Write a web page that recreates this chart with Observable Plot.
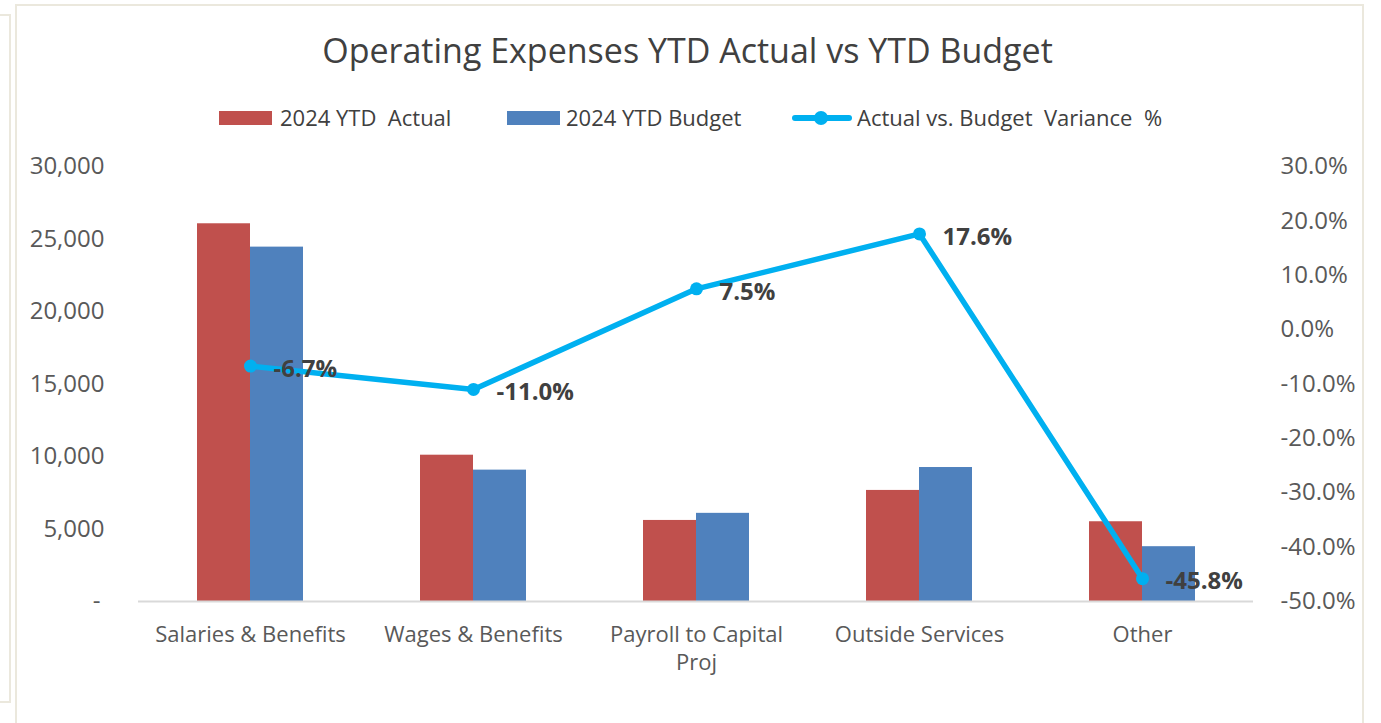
<!DOCTYPE html>
<html>
<head>
<meta charset="utf-8">
<script src="https://cdn.jsdelivr.net/npm/d3@7"></script>
<script src="https://cdn.jsdelivr.net/npm/@observablehq/plot@0.6"></script>
<style>
  html, body { margin: 0; padding: 0; background: #ffffff; }
  body { font-family: "Open Sans", sans-serif; }
  #wrap { position: relative; width: 1381px; height: 723px; overflow: hidden; background: #fff; }
  .side { position: absolute; left: -10px; top: 14px; width: 21px; height: 689px; box-sizing: border-box; border: 2px solid #ebe8dd; }
  .frame { position: absolute; left: 15px; top: 4px; width: 1349px; height: 800px; box-sizing: border-box; border: 2px solid #ebe8dd; }
  #title { position: absolute; left: -3px; top: 33px; width: 1381px; text-align: center; font-size: 34px; line-height: 34px; color: #404040; white-space: pre; }
  .sw { position: absolute; }
  .lg { position: absolute; font-size: 22px; line-height: 22px; color: #404040; white-space: pre; top: 106px; }
  #chart { position: absolute; left: 0; top: 0; }
</style>
</head>
<body>
<div id="wrap">
  <div class="side"></div>
  <div class="frame"></div>
  <div id="title"></div>
  <div id="legend"></div>
  <div id="chart"></div>
</div>
<script>
// ---- data ----
const categories = ["Salaries & Benefits", "Wages & Benefits", "Payroll to Capital\nProj", "Outside Services", "Other"];
const actual = [26050, 10090, 5590, 7660, 5500];
const budget = [24440, 9060, 6080, 9240, 3780];
const variance = [-6.7, -11.0, 7.5, 17.6, -45.8];
const leftTicks = [0, 5000, 10000, 15000, 20000, 25000, 30000];
const rightTicks = [-50, -40, -30, -20, -10, 0, 10, 20, 30];
const seriesNames = ["2024 YTD  Actual", "2024 YTD Budget", "Actual vs. Budget  Variance  %"];
const titleText = "Operating Expenses YTD Actual vs YTD Budget";

const colors = { actual: "#c0504d", budget: "#4f81bd", line: "#00b0f0" };

// secondary axis (-50%..30%) mapped onto primary (0..30000)
const pctMin = -50, pctMax = 30, yMax = 30000;
const toY = p => (p - pctMin) / (pctMax - pctMin) * yMax;
const fromY = v => v / yMax * (pctMax - pctMin) + pctMin;

const table = categories.map((c, i) => ({ category: c, actual: actual[i], budget: budget[i], variance: variance[i] }));

// ---- title & legend ----
document.getElementById("title").textContent = titleText;
const legend = document.getElementById("legend");
function add(tag, cls, style, text) {
  const el = document.createElement(tag);
  el.className = cls;
  Object.assign(el.style, style);
  if (text) el.textContent = text;
  legend.appendChild(el);
}
add("div", "sw", { left: "219px", top: "111px", width: "53px", height: "14px", background: colors.actual });
add("div", "lg", { left: "280px" }, seriesNames[0]);
add("div", "sw", { left: "507px", top: "111px", width: "53px", height: "14px", background: colors.budget });
add("div", "lg", { left: "566px" }, seriesNames[1]);
add("div", "sw", { left: "792px", top: "115px", width: "60px", height: "6px", background: colors.line, borderRadius: "3px" });
add("div", "sw", { left: "814px", top: "111px", width: "14px", height: "14px", background: colors.line, borderRadius: "7px" });
add("div", "lg", { left: "857px" }, seriesNames[2]);

// ---- chart ----
const plot = Plot.plot({
  width: 1381,
  height: 723,
  marginLeft: 138,
  marginRight: 128,
  marginTop: 166,
  marginBottom: 122,
  style: { fontFamily: "Open Sans", fontSize: "24px", color: "#595959", background: "transparent", overflow: "visible" },
  x: { type: "band", domain: categories, paddingInner: 0.525, paddingOuter: 0.2625, label: null },
  y: { domain: [0, yMax], label: null },
  marks: [
    Plot.barY(table, { x: "category", y: "actual", fill: colors.actual, insetRight: 53 }),
    Plot.barY(table, { x: "category", y: "budget", fill: colors.budget, insetLeft: 53 }),
    Plot.ruleY([0], { stroke: "#d9d9d9", strokeWidth: 2 }),
    Plot.axisX({ tickSize: 0, tickPadding: 21, fontSize: 22, lineHeight: 1.27, label: null }),
    Plot.axisY(leftTicks.filter(d => d > 0), { anchor: "left", tickSize: 0, tickPadding: 34, tickFormat: d3.format(","), label: null }),
    Plot.axisY([0], { anchor: "left", tickSize: 0, tickPadding: 38, tickFormat: () => "-", label: null }),
    Plot.axisY(rightTicks.map(toY), { anchor: "right", tickSize: 0, tickPadding: 27, tickFormat: d => fromY(d).toFixed(1) + "%", label: null }),
    Plot.line(table, { x: "category", y: d => toY(d.variance), stroke: colors.line, strokeWidth: 5.5, strokeLinejoin: "round", strokeLinecap: "round" }),
    Plot.dot(table, { x: "category", y: d => toY(d.variance), r: 6.5, fill: colors.line }),
    Plot.text(table, { x: "category", y: d => toY(d.variance), text: d => d.variance.toFixed(1) + "%", textAnchor: "start", dx: 23, dy: 3, fontSize: 24, fontWeight: "bold", fill: "#404040" })
  ]
});
document.getElementById("chart").appendChild(plot);
</script>
</body>
</html>
